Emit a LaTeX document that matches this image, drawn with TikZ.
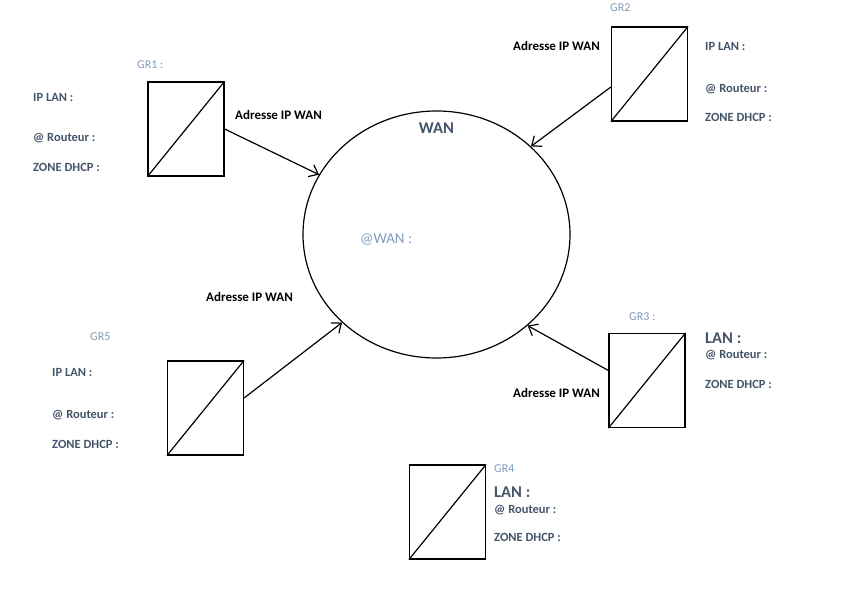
\documentclass[tikz,border=0pt]{standalone}
\usepackage{fontspec}
\setmainfont{Carlito}
\usetikzlibrary{shapes.geometric,arrows.meta}
\definecolor{txtdark}{HTML}{44546A}
\definecolor{txtlight}{HTML}{7F9BBC}
\tikzset{
  router/.style={draw=black, line width=1.2pt, rectangle, minimum width=76pt, minimum height=94pt, inner sep=0pt},
  link/.style={draw=black, line width=1.2pt, -{Straight Barb[length=8pt,width=13pt,line width=1.2pt]}},
  lbl/.style={anchor=west, inner sep=0pt, font=\fontsize{12.5}{14}\selectfont\bfseries, text=txtdark},
  biglbl/.style={anchor=west, inner sep=0pt, font=\fontsize{16.5}{18}\selectfont\bfseries, text=txtdark},
  grlbl/.style={anchor=west, inner sep=0pt, font=\fontsize{12}{13}\selectfont, text=txtlight},
  wanlbl/.style={anchor=west, inner sep=0pt, font=\fontsize{13}{14}\selectfont\bfseries, text=black},
}
\begin{document}
\begin{tikzpicture}[x=1pt,y=-1pt]
\useasboundingbox (0,0) rectangle (844,601);
% WAN cloud
\node[draw=black, line width=1.2pt, ellipse, minimum width=267pt, minimum height=247pt, inner sep=0pt] (wan) at (436.5,234.5) {};
\node[anchor=center, inner sep=0pt, font=\fontsize{16.5}{18}\selectfont\bfseries, text=txtdark] (wantitle) at (436.5,128) {WAN};
\node[anchor=west, inner sep=0pt, font=\fontsize{15}{17}\selectfont, text=txtlight] (wanaddr) at (360,240) {@WAN :};
% routers
\node[router] (g1) at (186,129) {};
\node[router] (g2) at (649.5,74) {};
\node[router] (g3) at (647,380.5) {};
\node[router] (g5) at (205.5,408) {};
\node[router] (g4) at (447.5,512) {};
\foreach \g in {g1,g2,g3,g4,g5}{
  \draw[line width=1.2pt] (\g.south west) -- (\g.north east);
}
% links
\draw[link] (g1.east) -- (wan.153.6);
\draw[link] ([yshift=-13pt]g2.west) -- (wan.43.8);
\draw[link] ([yshift=10pt]g3.west) -- (wan.-45.6);
\draw[link] ([yshift=10pt]g5.east) -- (wan.223.3);
% GR1
\node[grlbl] (gr1) at (137,65) {GR1 :};
\node[lbl] (g1ip) at (33,97) {IP LAN :};
\node[lbl] (g1rt) at (33,138) {@ Routeur :};
\node[lbl] (g1dh) at (33,167) {ZONE DHCP :};
\node[wanlbl] (g1w) at (235,115) {Adresse IP WAN};
% GR2
\node[grlbl] (gr2) at (610,8) {GR2};
\node[wanlbl] (g2w) at (513,46) {Adresse IP WAN};
\node[lbl] (g2ip) at (705,46) {IP LAN :};
\node[lbl] (g2rt) at (705,89) {@ Routeur :};
\node[lbl] (g2dh) at (705,117) {ZONE DHCP :};
% GR3
\node[grlbl] (gr3) at (629,317) {GR3 :};
\node[biglbl] (g3lan) at (705,338) {LAN :};
\node[lbl] (g3rt) at (705,355) {@ Routeur :};
\node[lbl] (g3dh) at (705,384) {ZONE DHCP :};
\node[wanlbl] (g3w) at (513,393) {Adresse IP WAN};
% GR4
\node[grlbl] (gr4) at (494,469) {GR4};
\node[biglbl] (g4lan) at (494,492) {LAN :};
\node[lbl] (g4rt) at (494,510) {@ Routeur :};
\node[lbl] (g4dh) at (494,537) {ZONE DHCP :};
% GR5
\node[grlbl] (gr5) at (90,337) {GR5};
\node[lbl] (g5ip) at (52,372) {IP LAN :};
\node[lbl] (g5rt) at (52,415) {@ Routeur :};
\node[lbl] (g5dh) at (52,444) {ZONE DHCP :};
\node[wanlbl] (g5w) at (206,297) {Adresse IP WAN};
\end{tikzpicture}
\end{document}
